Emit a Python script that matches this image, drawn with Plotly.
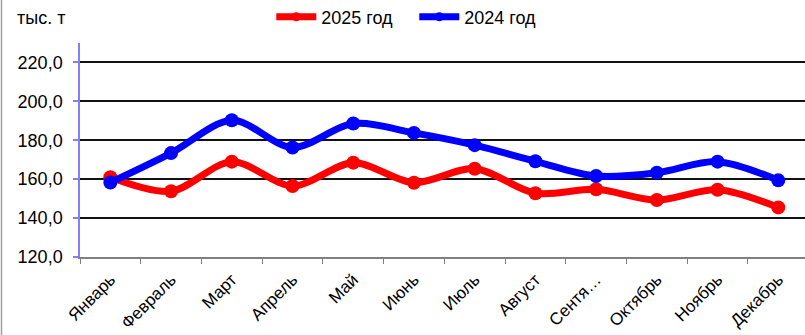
import plotly.graph_objects as go

# Monthly volumes, thousand tonnes
months = ["Январь", "Февраль", "Март", "Апрель", "Май", "Июнь",
          "Июль", "Август", "Сентя…", "Октябрь", "Ноябрь", "Декабрь"]
values_2025 = [161.0, 153.8, 169.0, 156.5, 168.5, 158.2,
               165.4, 152.8, 154.8, 149.3, 154.6, 145.5]
values_2024 = [158.3, 173.4, 190.3, 176.3, 188.6, 183.8,
               177.5, 169.2, 161.6, 163.3, 169.0, 159.4]
y_ticks = [120, 140, 160, 180, 200, 220]
y_tick_text = ["120,0", "140,0", "160,0", "180,0", "200,0", "220,0"]

FONT = "Liberation Sans, Arial, sans-serif"

W, H = 805, 335
L, T, B = 80, 43, 78
plot_w = W - L
plot_h = H - T - B

series = [
    ("2025 год", values_2025, "#FF0000"),
    ("2024 год", values_2024, "#0000FF"),
]

fig = go.Figure()
for name, vals, color in series:
    fig.add_trace(go.Scatter(
        x=months, y=vals, name=name, mode="lines+markers", showlegend=False,
        line=dict(color=color, width=7, shape="spline", smoothing=0.9),
        marker=dict(color=color, size=14),
    ))
# Legend entries with a slimmer marker on the line swatch
for name, vals, color in series:
    fig.add_trace(go.Scatter(
        x=[None], y=[None], name=name, mode="lines+markers",
        line=dict(color=color, width=7),
        marker=dict(color=color, size=9),
    ))

fig.update_layout(
    width=W, height=H,
    margin=dict(l=L, r=0, t=T, b=B, pad=0),
    paper_bgcolor="white", plot_bgcolor="white",
    font=dict(family=FONT, size=18, color="#000"),
    showlegend=True,
    legend=dict(
        orientation="h", xref="container", yref="container",
        x=0.337, xanchor="left", y=1 - 17 / H, yanchor="middle",
        font=dict(family=FONT, size=18, color="#000"),
        bgcolor="rgba(0,0,0,0)", itemwidth=40,
        entrywidth=88, entrywidthmode="pixels",
    ),
    xaxis=dict(
        type="category", range=[-0.5, 11.44],
        showline=True, linecolor="#808080", linewidth=2,
        ticks="outside", tickson="boundaries", ticklen=5,
        tickcolor="#808080", tickwidth=1,
        tickangle=-45, ticklabelstandoff=4,
        tickfont=dict(family=FONT, size=17, color="#000"),
        showgrid=False, zeroline=False,
    ),
    yaxis=dict(
        range=[120, 230], tickvals=y_ticks, ticktext=y_tick_text,
        showline=True, linecolor="#8080FF", linewidth=1.5,
        ticks="outside", ticklen=5, tickcolor="#8080FF", tickwidth=1.5,
        ticklabelstandoff=7,
        tickfont=dict(family=FONT, size=18, color="#000"),
        showgrid=True, gridcolor="#111111", gridwidth=2,
        zeroline=False,
    ),
    annotations=[dict(
        text="тыс. т", xref="paper", yref="paper",
        x=(15 - L) / plot_w, y=1 + (T - 18) / plot_h,
        xanchor="left", yanchor="middle", showarrow=False,
        font=dict(family=FONT, size=18, color="#000"),
    )],
    shapes=[dict(
        type="line", xref="paper", yref="paper",
        x0=(1.5 - L) / plot_w, x1=(1.5 - L) / plot_w,
        y0=-(B) / plot_h, y1=1 + T / plot_h,
        line=dict(color="#A0A0A0", width=1.5),
    )],
)

fig.write_html("out.html")
